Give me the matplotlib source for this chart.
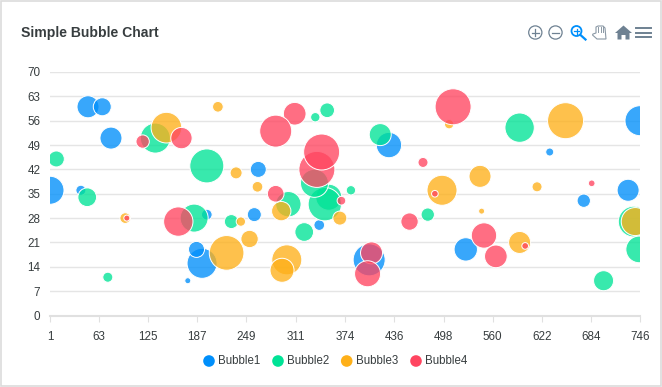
import matplotlib
matplotlib.use('Agg')
import matplotlib.pyplot as plt
from matplotlib.patches import Circle, Polygon, Rectangle
from matplotlib.colors import to_rgba

# bubble data, x / y / z (z is the radius in a third of a pixel)
b1_x = [1, 49, 67, 78, 264, 40, 429, 632, 746, 731, 675, 259, 199, 193, 186, 175, 341, 404, 526]
b1_y = [36, 60, 60, 51, 42, 36, 49, 47, 56, 36, 33, 29, 29, 15, 19, 10, 26, 16, 19]
b1_z = [42, 33, 27, 33, 24, 15, 38, 12, 45, 33, 20, 21, 16, 45, 24, 9, 16, 48, 35]

b2_x = [9, 48, 134, 199, 336, 351, 418, 594, 381, 183, 230, 302, 322, 353, 348, 335, 478, 74, 738, 745, 700]
b2_y = [45, 34, 51, 43, 57, 59, 52, 54, 36, 28, 27, 32, 24, 34, 32, 38, 29, 11, 27, 19, 10]
b2_z = [24, 28, 45, 51, 14, 22, 33, 44, 14, 42, 21, 38, 28, 39, 50, 42, 20, 15, 46, 40, 30]

b3_x = [148, 213, 236, 263, 505, 652, 544, 616, 496, 96, 242, 293, 224, 253, 300, 294, 367, 546, 594, 740]
b3_y = [54, 60, 41, 37, 55, 56, 40, 37, 36, 28, 27, 30, 18, 22, 16, 13, 28, 30, 21, 27]
b3_z = [46, 16, 18, 16, 14, 54, 33, 15, 45, 16, 14, 29, 52, 26, 45, 36, 21, 9, 33, 42]

b4_x = [118, 167, 310, 286, 338, 344, 510, 472, 685, 286, 487, 369, 98, 163, 455, 549, 564, 601, 407, 402]
b4_y = [50, 51, 58, 53, 42, 47, 60, 44, 38, 35, 35, 33, 28, 27, 27, 23, 17, 20, 18, 12]
b4_z = [20, 32, 34, 48, 54, 54, 54, 15, 10, 25, 10, 13, 9, 44, 26, 38, 34, 10, 33, 39]

series_names = ['Bubble1', 'Bubble2', 'Bubble3', 'Bubble4']
colors = ['#008FFB', '#00E396', '#FEB019', '#FF4560']
x_ticks = [1, 63, 125, 187, 249, 311, 374, 436, 498, 560, 622, 684, 746]
y_ticks = [0, 7, 14, 21, 28, 35, 42, 49, 56, 63, 70]

W, H = 662, 387
TEXT = '#373d3f'
ICON = '#6e8192'
plt.rcParams['font.family'] = ['Liberation Sans', 'DejaVu Sans']

fig = plt.figure(figsize=(W / 100, H / 100), dpi=100)

# overlay in pixel coordinates for the frame, toolbar and legend
ov = fig.add_axes([0, 0, 1, 1], zorder=5)
ov.set_xlim(0, W)
ov.set_ylim(H, 0)
ov.axis('off')
ov.patch.set_alpha(0)

ax = fig.add_axes([50 / W, 1 - 315.5 / H, 590 / W, 243.5 / H])
ax.set_xlim(1, 746)
ax.set_ylim(0, 70)
for s in ['top', 'left', 'right']:
    ax.spines[s].set_visible(False)
ax.spines['bottom'].set_color('#e0e0e0')
ax.spines['bottom'].set_linewidth(1.5)
ax.set_xticks(x_ticks)
ax.set_yticks(y_ticks)
ax.tick_params(axis='x', length=4, width=0.8, color='#e0e0e0', labelsize=8.4, labelcolor=TEXT, pad=7)
ax.tick_params(axis='y', length=0, labelsize=8.4, labelcolor=TEXT, pad=7)
ax.grid(axis='y', color='#e5e5e5', linewidth=1)
ax.set_axisbelow(True)

all_series = [(b1_x, b1_y, b1_z), (b2_x, b2_y, b2_z), (b3_x, b3_y, b3_z), (b4_x, b4_y, b4_z)]
for i, (xs, ys, zs) in enumerate(all_series):
    sizes = [(2 * z / 3 * 0.72) ** 2 for z in zs]
    ax.scatter(xs, ys, s=sizes, facecolor=to_rgba(colors[i], 0.78), edgecolor='white',
               linewidth=0.7, zorder=3 + i)

# title and frame
ov.text(21, 33.5, 'Simple Bubble Chart', fontsize=10.1, fontweight='bold', color=TEXT, va='center', ha='left')
ov.add_patch(Rectangle((0.5, 0.5), 660.5, 385.5, fill=False, edgecolor='#dcdcdc', linewidth=1.2))

# legend
legend_x = [209, 278, 346.7, 416]
for i, name in enumerate(series_names):
    ov.add_patch(Circle((legend_x[i], 361), 5.8, color=colors[i], linewidth=0))
    ov.text(legend_x[i] + 9.3, 361, name, fontsize=8.3, color=TEXT, va='center', ha='left')

# toolbar: zoom in, zoom out
for cx in [535.3, 555.5]:
    ov.add_patch(Circle((cx, 32.5), 6.6, fill=False, edgecolor=ICON, linewidth=0.9))
    ov.plot([cx - 3.5, cx + 3.5], [32.5, 32.5], color=ICON, lw=0.9)
ov.plot([535.3, 535.3], [29, 36], color=ICON, lw=0.9)

# selected zoom icon
ov.add_patch(Circle((576.5, 31), 5, fill=False, edgecolor=colors[0], linewidth=1.3))
ov.plot([580.5, 585.5], [35, 39.5], color=colors[0], lw=1.6)
ov.plot([574, 579], [31, 31], color=colors[0], lw=0.9)
ov.plot([576.5, 576.5], [28.5, 33.5], color=colors[0], lw=0.9)

# hand
hand = [(593, 34), (596, 33), (596, 27), (598, 26), (599, 26), (601, 26), (603, 26), (605, 28), (606, 39),
        (597, 39), (592.5, 35)]
ov.add_patch(Polygon(hand, closed=True, fill=False, edgecolor='#8a98a5', linewidth=0.8))
for hx in [598, 600.5, 603]:
    ov.plot([hx, hx], [27, 32], color='#8a98a5', lw=0.7)

# home
ov.add_patch(Polygon([(615, 33), (623.5, 25.5), (632, 33), (629.5, 33), (629.5, 39.5), (625.5, 39.5), (625.5, 35),
                      (621.5, 35), (621.5, 39.5), (617.5, 39.5), (617.5, 33)], closed=True, color=ICON, linewidth=0))

# menu
for my in [27.7, 32.5, 37]:
    ov.plot([636, 651], [my, my], color=ICON, lw=1.4)

fig.savefig('out.png', dpi=100)
